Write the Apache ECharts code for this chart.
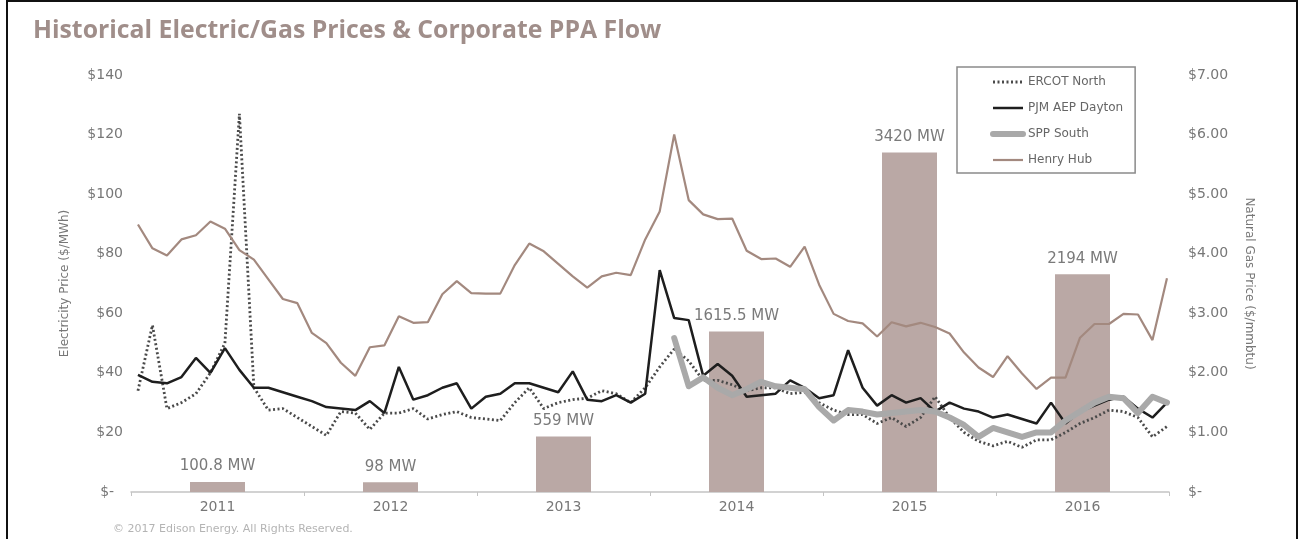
<!DOCTYPE html>
<html>
<head>
<meta charset="utf-8">
<script src="https://cdn.jsdelivr.net/npm/echarts@6/dist/echarts.min.js"></script>
<style>
  html, body { margin: 0; padding: 0; background: #ffffff; }
  #chart { width: 1301px; height: 539px; }
</style>
</head>
<body>
<div id="chart"></div>
<script>
// Annual corporate PPA volume (MW)
const years = ['2011', '2012', '2013', '2014', '2015', '2016'];
const ppaMW = [100.8, 98, 559, 1615.5, 3420, 2194];

// Monthly prices, Jan 2011 .. Dec 2016 ($/MWh)
const ercotNorth = [
  34, 56, 28, 30, 33, 40, 50, 127, 35, 27.5, 28, 25,
  22, 19, 27, 26.5, 21, 26.5, 26.5, 28, 24.5, 26, 27, 25,
  24.5, 24, 30, 35, 28, 30, 31, 31.5, 34, 33, 30, 35,
  42, 48, 44, 37.5, 37.5, 36, 34, 35, 35, 33, 33.5, 30,
  27.5, 26, 26, 23, 25, 22, 25, 32, 25, 20, 17, 15.5,
  17, 15, 17.5, 17.5, 20, 23, 25, 27.5, 27, 25, 18.5, 22
];
const pjmAepDayton = [
  39.3, 37, 36.5, 38.6, 45, 40, 48.3, 41, 35, 35, 33.5, 32,
  30.5, 28.5, 28, 27.5, 30.5, 26.5, 42, 31, 32.5, 35, 36.5, 28,
  32, 33, 36.5, 36.5, 35, 33.5, 40.5, 31, 30.5, 32.5, 30, 33,
  74.5, 58.4, 57.7, 39, 43, 39, 32, 32.5, 33, 37.5, 35, 31.5,
  32.5, 47.6, 35, 29, 32.5, 30, 31.5, 27, 30, 28, 27, 25,
  26, 24.5, 23, 30, 23, 27, 29, 31, 32, 28, 25, 30
];
const sppSouth = [
  null, null, null, null, null, null, null, null, null, null, null, null,
  null, null, null, null, null, null, null, null, null, null, null, null,
  null, null, null, null, null, null, null, null, null, null, null, null,
  null, 51.7, 35.5, 38.5, 35, 32.5, 34.5, 37, 35.5, 35, 34.5, 28.5,
  24, 27.5, 27, 26, 26.5, 27, 27.5, 27, 25, 22.5, 18.5, 21.5,
  20, 18.5, 20, 20, 24, 27, 30, 32, 31.5, 26.5, 32, 30
];
// Monthly Henry Hub natural gas ($/mmbtu)
const henryHub = [
  4.49, 4.09, 3.97, 4.24, 4.31, 4.54, 4.42, 4.06, 3.90, 3.57, 3.24, 3.17,
  2.67, 2.50, 2.17, 1.95, 2.43, 2.46, 2.95, 2.84, 2.85, 3.32, 3.54, 3.34,
  3.33, 3.33, 3.81, 4.17, 4.04, 3.83, 3.62, 3.43, 3.62, 3.68, 3.64, 4.24,
  4.71, 6.00, 4.90, 4.66, 4.58, 4.59, 4.05, 3.91, 3.92, 3.78, 4.12, 3.48,
  2.99, 2.87, 2.83, 2.61, 2.85, 2.78, 2.84, 2.77, 2.66, 2.34, 2.09, 1.93,
  2.28, 1.99, 1.73, 1.92, 1.92, 2.59, 2.82, 2.82, 2.99, 2.98, 2.55, 3.59
];

const asPoints = arr => arr.map((v, i) => [i, v]);
const FONT = 'DejaVu Sans';

// Line styles shared by the series and their legend entries
const ercotStyle = { color: '#4a4a4a', width: 2.8, type: [2, 2.5] };
const pjmStyle = { color: '#1e1e1e', width: 2.5 };
const sppStyle = { color: '#a9a9a9', width: 6, cap: 'round', join: 'round' };
const henryStyle = { color: '#a3897f', width: 2.2 };

const chart = echarts.init(document.getElementById('chart'), null, { renderer: 'canvas' });

chart.setOption({
  animation: false,
  backgroundColor: '#ffffff',
  title: [
    {
      text: 'Historical Electric/Gas Prices & Corporate PPA Flow',
      left: 28, top: 13,
      textStyle: { fontFamily: 'Open Sans', fontWeight: 700, fontSize: 24.8, color: '#a08e8a' }
    },
    {
      text: '© 2017 Edison Energy. All Rights Reserved.',
      left: 108, top: 519,
      textStyle: { fontFamily: FONT, fontWeight: 'normal', fontSize: 11, color: '#b4b4b4' }
    }
  ],
  graphic: [
    {
      type: 'polyline',
      silent: true,
      shape: { points: [[7, 545], [7, 1], [1297, 1], [1297, 545]] },
      style: { stroke: '#111', lineWidth: 2, fill: null }
    }
  ],
  legend: {
    data: [
      { name: 'ERCOT North', lineStyle: ercotStyle },
      { name: 'PJM AEP Dayton', lineStyle: pjmStyle },
      { name: 'SPP South', lineStyle: sppStyle },
      { name: 'Henry Hub', lineStyle: henryStyle }
    ],
    orient: 'vertical',
    left: 957, top: 67,
    itemWidth: 30, itemHeight: 14, itemGap: 14,
    padding: [9, 12, 7, 33],
    borderColor: '#8a8a8a', borderWidth: 1.5,
    itemStyle: { opacity: 0 },
    textStyle: { fontFamily: FONT, fontSize: 12, color: '#666' }
  },
  grid: { left: 131, right: 132, top: 75, bottom: 47, containLabel: false },
  xAxis: [
    {
      type: 'category',
      data: years,
      boundaryGap: true,
      axisLine: { lineStyle: { color: '#c4c4c4', width: 1.5 } },
      axisTick: { show: true, length: 4, lineStyle: { color: '#c4c4c4' } },
      axisLabel: { margin: 8, fontFamily: FONT, fontSize: 14, color: '#777' },
      splitLine: { show: false }
    },
    {
      type: 'value',
      min: -0.48, max: 71.14,
      show: false
    }
  ],
  yAxis: [
    {
      type: 'value',
      min: 0, max: 140, interval: 20,
      name: 'Electricity Price ($/MWh)',
      nameLocation: 'middle', nameGap: 60,
      nameTextStyle: { fontFamily: FONT, fontSize: 12, color: '#777' },
      axisLine: { show: false }, axisTick: { show: false }, splitLine: { show: false },
      axisLabel: {
        margin: 8, fontFamily: FONT, fontSize: 14, color: '#777',
        formatter: v => (v === 0 ? '$-  ' : '$' + v)
      }
    },
    {
      type: 'value',
      min: 0, max: 7, interval: 1,
      position: 'right',
      name: 'Natural Gas Price ($/mmbtu)',
      nameLocation: 'middle', nameGap: 74, nameRotate: -90,
      nameTextStyle: { fontFamily: FONT, fontSize: 12, color: '#777' },
      axisLine: { show: false }, axisTick: { show: false }, splitLine: { show: false },
      axisLabel: {
        margin: 19, fontFamily: FONT, fontSize: 14, color: '#777',
        formatter: v => (v === 0 ? '$-' : '$' + v.toFixed(2))
      }
    },
    {
      type: 'value',
      min: 0, max: 4200,
      show: false
    }
  ],
  series: [
    {
      name: 'Corporate PPA',
      type: 'bar',
      xAxisIndex: 0, yAxisIndex: 2,
      data: ppaMW,
      barWidth: 55,
      itemStyle: { color: '#baa8a5' },
      label: {
        show: true, position: 'top', distance: 8,
        fontFamily: FONT, fontSize: 15, color: '#7a7a7a',
        formatter: p => p.value + ' MW'
      },
      z: 1
    },
    {
      name: 'ERCOT North',
      type: 'line',
      xAxisIndex: 1, yAxisIndex: 0,
      data: asPoints(ercotNorth),
      symbol: 'none',
      lineStyle: ercotStyle,
      itemStyle: { color: ercotStyle.color },
      z: 3
    },
    {
      name: 'PJM AEP Dayton',
      type: 'line',
      xAxisIndex: 1, yAxisIndex: 0,
      data: asPoints(pjmAepDayton),
      symbol: 'none',
      lineStyle: pjmStyle,
      itemStyle: { color: pjmStyle.color },
      z: 4
    },
    {
      name: 'SPP South',
      type: 'line',
      xAxisIndex: 1, yAxisIndex: 0,
      data: asPoints(sppSouth),
      symbol: 'none',
      connectNulls: false,
      lineStyle: sppStyle,
      itemStyle: { color: sppStyle.color },
      z: 5
    },
    {
      name: 'Henry Hub',
      type: 'line',
      xAxisIndex: 1, yAxisIndex: 1,
      data: asPoints(henryHub),
      symbol: 'none',
      lineStyle: henryStyle,
      itemStyle: { color: henryStyle.color },
      z: 6
    }
  ]
});
</script>
</body>
</html>
